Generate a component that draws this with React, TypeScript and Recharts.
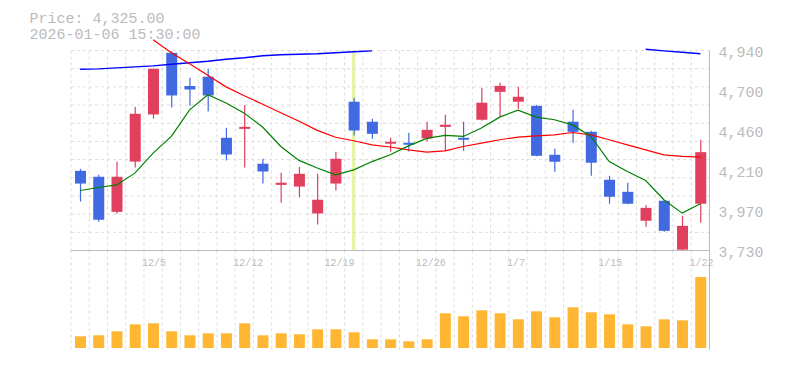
import React from 'react';
import { ComposedChart, Bar, Line, XAxis, YAxis, CartesianGrid, ReferenceLine } from 'recharts';

const dates = ['12/1','12/2','12/3','12/4','12/5','12/8','12/9','12/10','12/11','12/12','12/15','12/16','12/17','12/18','12/19','12/22','12/23','12/24','12/25','12/26','12/29','12/30','1/5','1/6','1/7','1/8','1/9','1/13','1/14','1/15','1/16','1/19','1/20','1/21','1/22'];
const opens = [4212,4176,3964,4268,4553,4926,4725,4781,4412,4466,4255,4127,4117,3954,4135,4630,4509,4376,4382,4408,4478,4412,4521,4690,4630,4605,4309,4509,4448,4158,4085,3910,4031,3735,4013];
const highs = [4224,4188,4267,4599,4832,4936,4775,4829,4472,4611,4285,4200,4236,4194,4327,4654,4527,4412,4442,4509,4551,4509,4714,4745,4720,4611,4345,4581,4454,4182,4140,4006,4035,3940,4400];
const lows = [4026,3904,3952,4232,4527,4595,4605,4571,4275,4232,4135,4019,4051,3887,4093,4426,4406,4327,4329,4389,4333,4333,4515,4539,4587,4300,4206,4382,4182,4013,4010,3873,3843,3732,3898];
const closes = [4135,3916,4176,4557,4829,4668,4704,4668,4311,4478,4208,4140,4194,4037,4285,4456,4436,4388,4370,4460,4491,4400,4624,4726,4660,4303,4267,4448,4261,4055,4013,3988,3849,3879,4325];
const volumes = [117,127,167,237,247,167,127,147,147,247,127,147,137,187,187,157,87,87,67,87,347,317,377,347,287,367,307,407,357,337,237,217,287,277,710];
const maShort = [4093,4111,4127,4198,4319,4420,4581,4672,4622,4561,4477,4359,4275,4229,4188,4218,4268,4309,4363,4408,4427,4420,4471,4537,4579,4537,4521,4490,4420,4268,4208,4153,4037,3956,4013];
const maMid = [null,null,null,null,5005,4926,4860,4790,4720,4666,4615,4563,4512,4457,4415,4394,4369,4356,4339,4325,4333,4359,4380,4400,4416,4424,4430,4444,4430,4400,4369,4339,4309,4299,4295];
const maLong = [4827,4829,4835,4841,4847,4857,4866,4875,4887,4896,4908,4914,4917,4920,4926,4932,4938,null,null,null,null,null,null,null,null,null,null,null,null,null,null,4948,4938,4929,4920];
const priceTicks = [3730,3972,4214,4456,4698,4940];
const tickLabels = ['12/5','12/12','12/19','12/26','1/7','1/15','1/22'];
const crosshairDate = '12/22';
const titleLines = ['Price: 4,325.00', '2026-01-06 15:30:00'];

const data = dates.map((d, i) => ({
  date: d, open: opens[i], high: highs[i], low: lows[i], close: closes[i],
  volume: volumes[i], maShort: maShort[i], maMid: maMid[i], maLong: maLong[i],
}));

const H_GRID_STEPS = 11;

const RED = '#e0405e';
const BLUE = '#4169e1';
const TXT = '#bbbbbb';
const FONT = '"Liberation Mono", monospace';

// vertical grid at the band boundaries of the category axis
const bandEdges = ({ offset }: any) =>
  Array.from({ length: dates.length + 1 }, (_, i) => offset.left + (i * offset.width) / dates.length);
// horizontal grid: evenly split price panel
const hLines = ({ offset }: any) =>
  Array.from({ length: H_GRID_STEPS + 1 }, (_, i) => offset.top + (i * offset.height) / H_GRID_STEPS);

const Candle = (props: any) => {
  const { x, y, width, height, payload } = props;
  const top = Math.min(y, y + height);
  const h = Math.abs(height);
  const { open, close, high, low } = payload;
  const ppu = h / (high - low);
  const color = close >= open ? RED : BLUE;
  const bTop = top + (high - Math.max(open, close)) * ppu;
  const bBot = top + (high - Math.min(open, close)) * ppu;
  const cx = x + width / 2;
  return (
    <g>
      <line x1={cx} x2={cx} y1={top} y2={top + h} stroke={color} strokeWidth={1.2} />
      <rect x={x} y={bTop} width={width} height={Math.max(bBot - bTop, 1.5)} fill={color} />
    </g>
  );
};

const XTick = (props: any) => {
  const { x, y, payload } = props;
  if (!tickLabels.includes(payload.value)) return <g />;
  return (
    <text x={x - 11} y={y} dy="0.71em" textAnchor="start" fill={TXT} fontSize={10} fontFamily={FONT}>
      {payload.value}
    </text>
  );
};

const YTick = (props: any) => {
  const { x, y, payload } = props;
  const label = (Math.round(payload.value / 10) * 10).toLocaleString('en-US');
  return (
    <text x={x} y={y + 6.6} textAnchor="start" fill={TXT} fontSize={15} fontFamily={FONT}>
      {label}
    </text>
  );
};

const layer: React.CSSProperties = { position: 'absolute', left: 0, top: 0 };

export default function App() {
  return (
    <div style={{ position: 'absolute', left: 0, top: 0, width: 785, height: 370, background: '#fff' }}>
      <div style={layer}>
        <ComposedChart width={785} height={370} data={data} margin={{ top: 250.5, right: 0, bottom: 20.5, left: 71 }}>
          <XAxis xAxisId="c" dataKey="date" tick={false} tickLine={false} axisLine={{ stroke: '#bbb' }} height={0} />
          <YAxis yAxisId="v" orientation="right" domain={[-15, 975]} width={75.5} tick={false} tickLine={false} axisLine={{ stroke: '#bbb' }} />
          <CartesianGrid xAxisId="c" yAxisId="v" horizontal={false} verticalCoordinatesGenerator={bandEdges} stroke="#ddd" strokeDasharray="3 3" />
          <Bar xAxisId="c" yAxisId="v" dataKey="volume" fill="#ffb733" barSize={11} isAnimationActive={false} />
        </ComposedChart>
      </div>
      <div style={layer}>
        <ComposedChart width={785} height={272} data={data} margin={{ top: 50.5, right: 75.5, bottom: 21.5, left: 71 }}>
          <XAxis dataKey="date" hide />
          <YAxis domain={[3730, 4940]} hide />
          <Bar dataKey="close" fill="none" isAnimationActive={false} />
          <ReferenceLine x={crosshairDate} stroke="#e6f5a8" strokeWidth={3.5} />
        </ComposedChart>
      </div>
      <div style={layer}>
        <ComposedChart width={785} height={272} data={data} margin={{ top: 50.5, right: 0, bottom: 0, left: 71 }}>
          <XAxis xAxisId="c" dataKey="date" interval={0} tick={<XTick />} tickLine={false} tickSize={0} tickMargin={8} axisLine={{ stroke: '#bbb' }} height={21.5} />
          <YAxis yAxisId="p" orientation="right" domain={[3730, 4940]} ticks={priceTicks} interval={0} width={75.5} tick={<YTick />} tickLine={false} tickSize={0} tickMargin={9} axisLine={{ stroke: '#bbb' }} />
          <CartesianGrid xAxisId="c" yAxisId="p" verticalCoordinatesGenerator={bandEdges} horizontalCoordinatesGenerator={hLines} stroke="#ddd" strokeDasharray="3 3" />
          <Bar xAxisId="c" yAxisId="p" dataKey={(d: any) => [d.low, d.high]} shape={<Candle />} barSize={11} isAnimationActive={false} />
        </ComposedChart>
      </div>
      <div style={layer}>
        <ComposedChart width={785} height={272} data={data} margin={{ top: 30.5, right: 75.5, bottom: 21.5, left: 71 }}>
          <XAxis dataKey="date" scale="band" hide />
          <YAxis domain={[3730, 5061]} allowDataOverflow hide />
          <Line dataKey="maLong" stroke="#0000ff" strokeWidth={1.4} dot={false} isAnimationActive={false} connectNulls={false} />
          <Line dataKey="maMid" stroke="#ff0000" strokeWidth={1.2} dot={false} isAnimationActive={false} connectNulls={false} />
          <Line dataKey="maShort" stroke="#008000" strokeWidth={1.2} dot={false} isAnimationActive={false} />
        </ComposedChart>
      </div>
      <svg width={785} height={60} style={{ ...layer, pointerEvents: 'none' }}>
        <text x={29.5} y={23} fill={TXT} fontSize={15} fontFamily={FONT}>{titleLines[0]}</text>
        <text x={29.5} y={38.5} fill={TXT} fontSize={15} fontFamily={FONT}>{titleLines[1]}</text>
      </svg>
    </div>
  );
}
